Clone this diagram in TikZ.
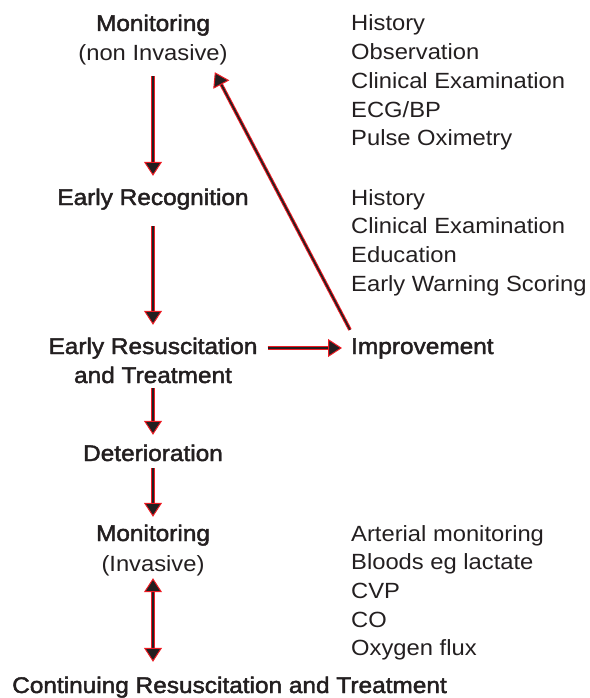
\documentclass[tikz,border=0pt]{standalone}
\usepackage{fontspec}
\setmainfont{Liberation Sans}[FakeStretch=1.08]
\newfontfamily\medfont{Liberation Sans}[FakeStretch=1.08, FakeBold=2]
\usetikzlibrary{arrows.meta,calc}
\definecolor{ink}{RGB}{35,31,32}
\definecolor{flowred}{RGB}{237,28,36}
\tikzset{
  txt/.style={inner sep=0pt, text height=17pt, text depth=5pt, text=ink,
    font=\fontsize{22}{26}\selectfont},
  head/.style={txt, anchor=base, font=\fontsize{22.6}{26}\medfont},
  sub/.style={txt, anchor=base},
  item/.style={txt, anchor=base west},
  tipA/.tip={Triangle[length=14pt,width=18pt,fill=ink,color=flowred,line width=1pt]},
  redhalo/.style={draw=flowred, line width=3.6pt},
  core/.style={draw=ink, line width=1.6pt},
}
\newcommand{\flowline}[5]{% start-shorten, end-shorten, halo end-shorten, from, to
  \draw[redhalo, shorten <=#1, shorten >=#3] (#4) -- (#5);
  \draw[core, -tipA, shorten <=#1, shorten >=#2] (#4) -- (#5);}
\begin{document}
\begin{tikzpicture}[x=1pt,y=-1pt]
\useasboundingbox (0,0) rectangle (589,698);
% main column
\node[head] (mon1) at (153,31) {Monitoring};
\node[sub] (mon1s) at (153,61) {(non Invasive)};
\node[head] (rec) at (153,205) {Early Recognition};
\node[head] (res1) at (153,354) {Early Resuscitation};
\node[head] (res2) at (153,383) {and Treatment};
\node[head] (det) at (153,461) {Deterioration};
\node[head] (mon2) at (153,541) {Monitoring};
\node[sub] (mon2s) at (153,571) {(Invasive)};
\node[head, anchor=base west] (cont) at (12,693) {Continuing Resuscitation and Treatment};
\node[head, anchor=base west] (imp) at (351,354) {Improvement};
% right column
\node[item] (a1) at (351,31) {History};
\node[item] (a2) at (351,59.7) {Observation};
\node[item] (a3) at (351,88.4) {Clinical Examination};
\node[item] (a4) at (351,117.1) {ECG/BP};
\node[item] (a5) at (351,145.8) {Pulse Oximetry};
\node[item] (b1) at (351,205) {History};
\node[item] (b2) at (351,233.7) {Clinical Examination};
\node[item] (b3) at (351,262.4) {Education};
\node[item] (b4) at (351,291.1) {Early Warning Scoring};
\node[item] (c1) at (351,541) {Arterial monitoring};
\node[item] (c2) at (351,569.7) {Bloods eg lactate};
\node[item] (c3) at (351,598.4) {CVP};
\node[item] (c4) at (351,627.1) {CO};
\node[item] (c5) at (351,655.8) {Oxygen flux};
% connectors
\flowline{10pt}{12pt}{17pt}{mon1s.south}{rec.north}
\flowline{16pt}{12pt}{17pt}{rec.south}{res1.north}
\flowline{0pt}{9pt}{14pt}{res2.south}{det.north}
\flowline{2pt}{7pt}{12pt}{det.south}{mon2.north}
\flowline{10pt}{9pt}{14pt}{res1.east}{imp.west}
\coordinate (dgA) at ($(imp.north west)+(-1,-7)$);
\coordinate (dgB) at ($(mon1s.south east)+(-13,6)$);
\flowline{0pt}{0pt}{5pt}{dgA}{dgB}
\draw[redhalo, shorten <=7pt, shorten >=19pt] (mon2s.south) -- (cont.north -| mon2s.south);
\draw[core, tipA-tipA, shorten <=2pt, shorten >=14pt] (mon2s.south) -- (cont.north -| mon2s.south);
\end{tikzpicture}
\end{document}
